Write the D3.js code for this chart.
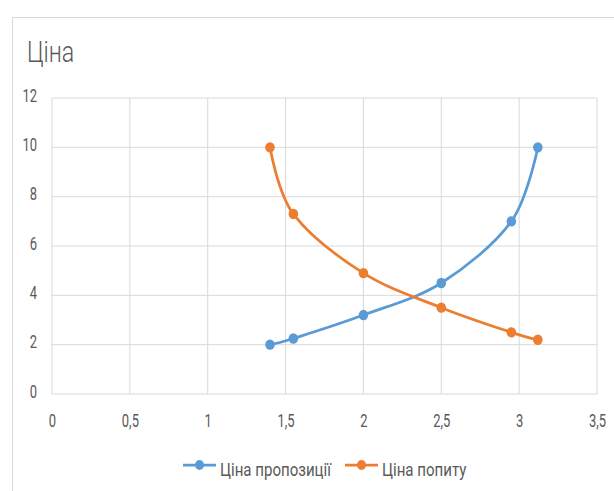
<!DOCTYPE html>
<html><head><meta charset="utf-8">
<script src="https://cdn.jsdelivr.net/npm/d3@7"></script>
<style>
body{margin:0;background:#fff;}
text{font-family:Roboto,"Liberation Sans",sans-serif;}
</style></head>
<body><svg id="c" width="614" height="491"></svg>
<script>
const title = "Ціна";
const supplyName = "Ціна пропозиції";
const demandName = "Ціна попиту";
const supplyX = [1.4, 1.55, 2, 2.5, 2.95, 3.12];
const supplyY = [2, 2.25, 3.2, 4.5, 7, 10];
const demandX = [1.4, 1.55, 2, 2.5, 2.95, 3.12];
const demandY = [10, 7.3, 4.9, 3.5, 2.5, 2.2];
const xTicks = [0, 0.5, 1, 1.5, 2, 2.5, 3, 3.5];
const yTicks = [0, 2, 4, 6, 8, 10, 12];

const svg = d3.select("#c");
svg.append("rect").attr("x",12.5).attr("y",17.5).attr("width",620).attr("height",490)
  .attr("fill","#fff").attr("stroke","#d9d9d9");

const x = d3.scaleLinear().domain([0,3.5]).range([52,597]);
const y = d3.scaleLinear().domain([0,12]).range([394,98]);
const fmt = d => String(d).replace(".", ",");

function condense(sel, f){
  sel.each(function(){
    const w = this.getComputedTextLength();
    d3.select(this).attr("textLength", w*f).attr("lengthAdjust","spacingAndGlyphs");
  });
}

// grid
svg.append("g").selectAll("line").data(yTicks).join("line")
  .attr("x1",x(0)).attr("x2",x(3.5)).attr("y1",d=>y(d)).attr("y2",d=>y(d))
  .attr("stroke","#d9d9d9").attr("stroke-width",1);
svg.append("g").selectAll("line").data(xTicks).join("line")
  .attr("y1",y(0)).attr("y2",y(12)).attr("x1",d=>x(d)).attr("x2",d=>x(d))
  .attr("stroke","#d9d9d9").attr("stroke-width",1);

const ya = d3.axisLeft(y).tickValues(yTicks).tickFormat(fmt).tickSize(0).tickPadding(15);
const gy = svg.append("g").attr("transform",`translate(${x(0)},0)`).call(ya)
  .call(g=>g.select(".domain").remove());
gy.selectAll("text").attr("fill","#595959").style("font-size","18px").attr("dy","0.18em");
condense(gy.selectAll("text"), 0.72);
const xa = d3.axisBottom(x).tickValues(xTicks).tickFormat(fmt).tickSize(0).tickPadding(20);
const gx = svg.append("g").attr("transform",`translate(0,${y(0)})`).call(xa)
  .call(g=>g.select(".domain").remove());
gx.selectAll("text").attr("fill","#595959").style("font-size","18px");
condense(gx.selectAll("text"), 0.72);

const tt = svg.append("text").attr("x",27).attr("y",62).text(title)
  .attr("fill","#595959").style("font-size","29px").style("font-weight","300");
condense(tt, 0.8);

const line = d3.line().x(d=>x(d[0])).y(d=>y(d[1])).curve(d3.curveCardinal.tension(0));
const series = [
  {name:supplyName, color:"#5B9BD5", pts:supplyX.map((v,i)=>[v,supplyY[i]])},
  {name:demandName, color:"#ED7D31", pts:demandX.map((v,i)=>[v,demandY[i]])}
];
series.forEach(s=>{
  svg.append("path").attr("d",line(s.pts)).attr("fill","none")
    .attr("stroke",s.color).attr("stroke-width",2.75);
  svg.append("g").selectAll("ellipse").data(s.pts).join("ellipse")
    .attr("cx",d=>x(d[0])).attr("cy",d=>y(d[1])).attr("rx",4.8).attr("ry",5.2).attr("fill",s.color);
});

// legend
const leg = [{s:series[0], x0:183},{s:series[1], x0:345}];
leg.forEach(l=>{
  const g = svg.append("g").attr("transform",`translate(${l.x0},465)`);
  g.append("line").attr("x1",0).attr("x2",33).attr("stroke",l.s.color).attr("stroke-width",2.75);
  g.append("ellipse").attr("cx",16.5).attr("rx",4.5).attr("ry",4.9).attr("fill",l.s.color);
  const t = g.append("text").attr("x",37).attr("y",10.5).text(l.s.name).attr("fill","#595959").style("font-size","17.5px");
  condense(t, 0.86);
});
</script></body></html>
